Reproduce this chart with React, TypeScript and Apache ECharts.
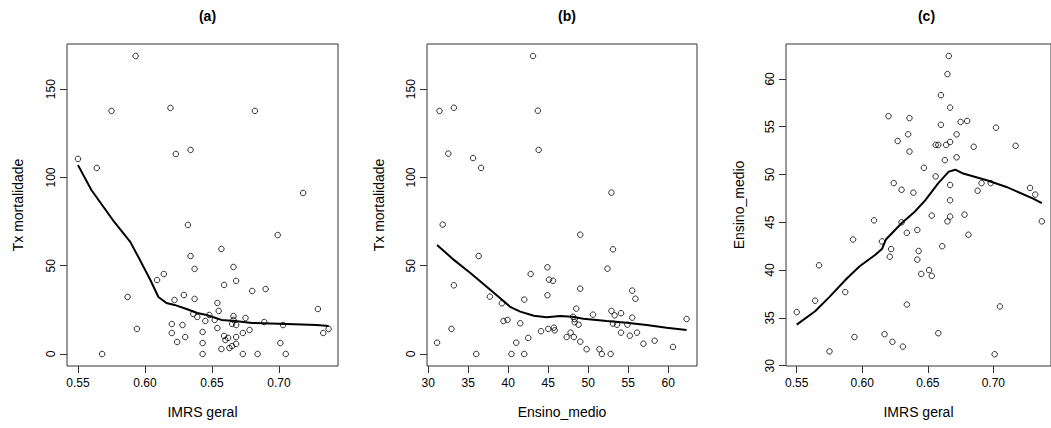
import React, { useEffect, useRef } from "react";
import * as echarts from "echarts";

// Panel (a): IMRS geral vs Tx mortalidade
const imrsA = [0.593,0.575,0.619,0.550,0.564,0.623,0.634,0.682,0.718,0.632,0.634,0.637,0.609,0.614,0.587,0.622,0.629,0.637,0.594,0.620,0.628,0.620,0.630,0.624,0.568,0.636,0.639,0.699,0.657,0.666,0.668,0.659,0.680,0.690,0.654,0.655,0.729,0.645,0.648,0.652,0.666,0.666,0.665,0.668,0.675,0.654,0.643,0.678,0.673,0.689,0.703,0.733,0.737,0.659,0.662,0.668,0.660,0.643,0.668,0.665,0.663,0.657,0.701,0.643,0.673,0.684,0.705];
const txA = [168.8,137.7,139.4,110.5,105.4,113.3,115.6,137.7,91.2,73.1,55.5,48.2,41.9,45.3,32.3,30.6,33.4,31.2,14.2,17.0,16.4,11.9,9.6,6.8,0,22.7,21.0,67.4,59.5,49.3,41.4,39.1,35.7,36.8,28.9,24.4,25.5,18.7,22.1,19.3,21.5,19.3,17.0,16.4,20.4,14.7,12.5,13.6,11.9,18.1,16.4,11.9,14.2,10.2,9.1,9.6,7.9,6.2,5.7,4.5,3.4,2.8,6.2,0,0,0,0];
const lowessAx = [0.550,0.560,0.576,0.589,0.595,0.604,0.610,0.616,0.622,0.631,0.639,0.646,0.657,0.667,0.680,0.706,0.728,0.737];
const lowessAy = [107.0,92.9,75.9,63.5,55.0,41.9,32.3,28.9,27.8,25.5,23.2,22.1,19.3,18.7,17.6,17.0,16.4,15.9];

// Panel (b): Ensino_medio vs Tx mortalidade
const ensB = [43.1,31.4,33.2,43.7,32.5,35.6,36.6,43.8,52.9,31.8,36.3,33.2,42.8,44.9,45.1,44.9,37.7,39.2,42.0,39.4,39.9,41.5,32.9,31.1,41.0,42.5,44.1,45.0,36.0,40.4,42.0,49.0,53.1,52.4,45.6,49.0,55.5,55.9,48.5,52.9,54.1,53.3,50.6,48.1,48.3,55.5,62.3,48.3,48.8,53.1,53.6,54.9,45.7,45.8,54.1,56.1,47.3,47.8,48.2,55.2,49.0,58.3,56.9,60.6,49.8,51.4,51.7,52.8];
const txB = [168.8,137.7,139.5,137.8,113.5,111.0,105.4,115.6,91.4,73.3,55.5,38.9,45.3,49.1,42.1,33.3,32.5,28.7,30.8,18.7,19.3,17.4,14.2,6.4,6.4,9.1,12.9,14.2,0,0,0,67.6,59.3,48.3,41.5,37.0,35.9,31.3,25.7,24.4,23.1,21.9,22.3,21.1,19.8,20.6,19.8,18.0,16.6,17.2,16.6,16.6,14.9,13.4,12.1,12.1,9.6,12.1,9.6,10.4,7.0,7.5,5.8,4.0,2.7,2.7,0,0];
const lowessBx = [31.1,33.2,35.3,37.3,39.0,40.3,41.5,43.2,44.8,46.5,48.0,49.4,52.3,54.8,57.3,59.8,62.3];
const lowessBy = [61.8,53.3,45.7,38.1,31.6,26.5,24.0,21.7,20.8,21.5,21.1,20.0,18.7,17.7,16.4,14.9,13.6];

// Panel (c): IMRS geral vs Ensino_medio
const imrsC = [0.620,0.627,0.624,0.666,0.665,0.660,0.667,0.636,0.660,0.675,0.680,0.702,0.635,0.672,0.636,0.656,0.658,0.664,0.667,0.685,0.717,0.672,0.663,0.647,0.656,0.630,0.639,0.667,0.691,0.698,0.688,0.728,0.732,0.667,0.653,0.667,0.665,0.678,0.737,0.630,0.634,0.642,0.681,0.661,0.622,0.621,0.643,0.642,0.651,0.645,0.653,0.634,0.705,0.658,0.623,0.631,0.701,0.550,0.564,0.567,0.593,0.609,0.615,0.587,0.594,0.617,0.575];
const ensC = [56.1,53.5,49.1,62.4,60.5,58.3,57.0,55.9,55.2,55.5,55.6,54.9,54.2,54.2,52.4,53.1,53.1,53.1,53.4,52.9,53.0,51.8,51.5,50.7,49.8,48.4,48.1,48.9,49.1,49.1,48.3,48.6,47.9,47.3,45.7,45.6,45.1,45.8,45.1,45.0,43.9,44.2,43.7,42.5,42.2,41.4,42.0,41.1,40.0,39.6,39.4,36.4,36.2,33.4,32.5,32.0,31.2,35.6,36.8,40.5,43.2,45.2,43.0,37.7,33.0,33.3,31.5];
const lowessCx = [0.550,0.564,0.575,0.588,0.598,0.610,0.615,0.618,0.630,0.640,0.648,0.658,0.666,0.671,0.677,0.695,0.710,0.730,0.737];
const lowessCy = [34.3,35.7,37.2,39.1,40.4,41.6,42.2,43.2,44.9,46.1,47.3,49.1,50.3,50.5,50.1,49.4,48.7,47.5,47.0];

// Tick labels
const ticksImrs = [0.55, 0.6, 0.65, 0.7];
const ticksTx = [0, 50, 100, 150];
const ticksEns = [30, 35, 40, 45, 50, 55, 60];

const titles = ["(a)", "(b)", "(c)"];
const xNames = ["IMRS geral", "Ensino_medio", "IMRS geral"];
const yNames = ["Tx mortalidade", "Tx mortalidade", "Ensino_medio"];

const FONT = '"Liberation Sans", Arial, Helvetica, sans-serif';

function zip(a: number[], b: number[]) {
  return a.map((v, i) => [v, b[i]]);
}

export default function App() {
  const ref = useRef<HTMLDivElement>(null);
  useEffect(() => {
    if (!ref.current) return;
    const chart = echarts.init(ref.current, undefined, { renderer: "svg" });

    const grids = [
      { left: 67, top: 44, width: 271, height: 322 },
      { left: 427, top: 44, width: 270, height: 322 },
      { left: 786, top: 44, width: 271, height: 322 },
    ];
    const xr = [
      { min: 0.5418, max: 0.744, ticks: ticksImrs, fmt: (v: number) => v.toFixed(2) },
      { min: 29.84, max: 63.6, ticks: ticksEns, fmt: (v: number) => String(v) },
      { min: 0.5418, max: 0.744, ticks: ticksImrs, fmt: (v: number) => v.toFixed(2) },
    ];
    const yr = [
      { min: -6.8, max: 175.6, ticks: ticksTx },
      { min: -6.8, max: 175.6, ticks: ticksTx },
      { min: 29.97, max: 63.65, ticks: ticksEns },
    ];
    const yGaps = [42, 41, 40];

    const scatterStyle = {
      color: "rgba(0,0,0,0)",
      borderColor: "#000",
      borderWidth: 1,
    };

    const pts = [zip(imrsA, txA), zip(ensB, txB), zip(imrsC, ensC)];
    const lines = [zip(lowessAx, lowessAy), zip(lowessBx, lowessBy), zip(lowessCx, lowessCy)];

    chart.setOption({
      animation: false,
      backgroundColor: "#fff",
      title: titles.map((t, i) => ({
        text: t,
        left: grids[i].left + grids[i].width / 2,
        top: 4,
        textAlign: "center",
        textStyle: { fontFamily: FONT, fontWeight: "bold", fontSize: 14, color: "#000" },
      })),
      grid: grids.map((g) => ({
        ...g,
        show: true,
        borderColor: "#333",
        borderWidth: 1,
        backgroundColor: "transparent",
        containLabel: false,
      })),
      xAxis: xr.map((r, i) => ({
        type: "value",
        gridIndex: i,
        min: r.min,
        max: r.max,
        axisLine: { show: false, onZero: false },
        splitLine: { show: false },
        axisTick: { show: true, inside: false, length: 7, lineStyle: { color: "#333" }, customValues: r.ticks },
        axisLabel: {
          show: true,
          customValues: r.ticks,
          formatter: r.fmt,
          margin: 11,
          color: "#000",
          fontSize: 12,
          fontFamily: FONT,
        },
        name: xNames[i],
        nameLocation: "middle",
        nameGap: 39,
        nameTextStyle: { fontFamily: FONT, fontSize: 14, color: "#000" },
      })),
      yAxis: yr.map((r, i) => ({
        type: "value",
        gridIndex: i,
        min: r.min,
        max: r.max,
        axisLine: { show: false, onZero: false },
        splitLine: { show: false },
        axisTick: { show: true, inside: false, length: 7, lineStyle: { color: "#333" }, customValues: r.ticks },
        axisLabel: {
          show: true,
          customValues: r.ticks,
          rotate: 90,
          margin: 10,
          color: "#000",
          fontSize: 12,
          fontFamily: FONT,
        },
        name: yNames[i],
        nameLocation: "middle",
        nameGap: yGaps[i],
        nameRotate: 90,
        nameTextStyle: { fontFamily: FONT, fontSize: 14, color: "#000" },
      })),
      series: [
        ...pts.map((d, i) => ({
          type: "scatter",
          xAxisIndex: i,
          yAxisIndex: i,
          data: d,
          symbol: "circle",
          symbolSize: 5.5,
          itemStyle: scatterStyle,
          silent: true,
        })),
        ...lines.map((d, i) => ({
          type: "line",
          xAxisIndex: i,
          yAxisIndex: i,
          data: d,
          showSymbol: false,
          symbol: "none",
          smooth: false,
          lineStyle: { color: "#000", width: 2 },
          silent: true,
        })),
      ],
    });
    return () => chart.dispose();
  }, []);

  return (
    <div
      ref={ref}
      style={{ position: "fixed", left: 0, top: 0, width: 1051, height: 428, background: "#fff" }}
    />
  );
}
